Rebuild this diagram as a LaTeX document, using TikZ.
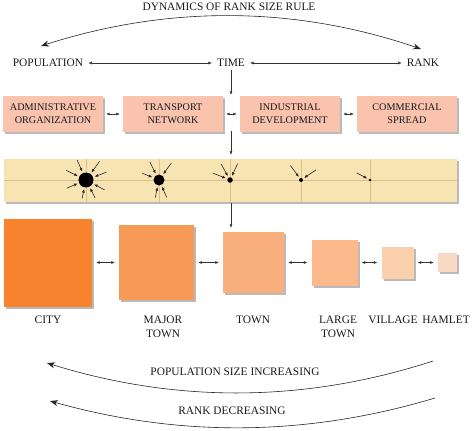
\documentclass[tikz,border=0pt]{standalone}
\usepackage{fontspec}
\setmainfont{Liberation Serif}
\usetikzlibrary{arrows.meta,shadows,calc}

\definecolor{stagepink}{HTML}{F9C3AE}
\definecolor{bandtan}{HTML}{F8E3B3}
\definecolor{bandline}{HTML}{D9C08C}
\definecolor{citycol}{HTML}{F7832F}
\definecolor{majorcol}{HTML}{F79A57}
\definecolor{towncol}{HTML}{FAAF7F}
\definecolor{largecol}{HTML}{FBB98C}
\definecolor{villagecol}{HTML}{FBD0AC}
\definecolor{hamletcol}{HTML}{F8DAC4}

\begin{document}
\begin{tikzpicture}[x=1pt, y=-1pt, >=Latex,
  every node/.style={font=\fontsize{11.4}{14}\selectfont, text=black!90, inner sep=1pt},
  boxshadow/.style={drop shadow={shadow xshift=2pt, shadow yshift=-2pt, fill=black!60, opacity=0.45}},
  stage/.style={fill=stagepink, minimum width=100pt, minimum height=36pt, align=center,
    font=\fontsize{10.2}{13}\selectfont, boxshadow},
  settle/.style 2 args={fill=#1, minimum size=#2, boxshadow},
  hub/.style={circle, fill=black, inner sep=0pt},
  link/.style={{Latex[length=3.5pt,width=3pt]}-{Latex[length=3.5pt,width=3pt]}, black!80, line width=0.45pt, shorten <=4pt, shorten >=4pt},
  down/.style={-{Latex[length=3.5pt,width=3pt]}, black!80, line width=0.45pt},
  pull/.style={-{Latex[length=3.6pt,width=3pt]}, black!85, line width=0.6pt, shorten >=1.5pt},
  sweep/.style={black!85, line width=0.6pt},
  gridline/.style={bandline, line width=0.4pt}]
  \useasboundingbox (0,0) rectangle (474,431);

  % Title arc
  \node (title) at (229,7) {DYNAMICS OF RANK SIZE RULE};
  \coordinate (popend) at (41,46);
  \coordinate (rankend) at (421,49);
  \draw[sweep, {Stealth[length=8pt,width=6pt]}-{Stealth[length=8pt,width=6pt]}] (popend) .. controls (169,5) and (295,6) .. (rankend);

  % Population - time - rank
  \node (pop) at (48,63) {POPULATION};
  \node (time) at (231,63) {TIME};
  \node (rank) at (423,63) {RANK};
  \draw[link] (pop) -- (time);
  \draw[link] (time) -- (rank);

  % Stages of growth
  \node[stage] (admin) at (53,114) {ADMINISTRATIVE\\ORGANIZATION};
  \node[stage] (transport) at (173,114) {TRANSPORT\\NETWORK};
  \node[stage] (industry) at (290,114) {INDUSTRIAL\\DEVELOPMENT};
  \node[stage] (commerce) at (407,114) {COMMERCIAL\\SPREAD};
  \draw[link, shorten <=3pt, shorten >=3pt] (admin) -- (transport);
  \draw[link, shorten <=3pt, shorten >=3pt] (transport) -- (industry);
  \draw[link, shorten <=3pt, shorten >=3pt] (industry) -- (commerce);

  % Band of centres
  \node[fill=bandtan, minimum width=453pt, minimum height=43pt, boxshadow] (band) at (230.5,180.5) {};
  \draw[gridline] (band.west) -- (band.east);
  \foreach \x in {86,159,230,301,370}
    \draw[gridline] (\x,159) -- (\x,202);
  \foreach \n/\x/\d in {1/86/15, 2/159/11, 3/230/5.5, 4/301/4, 5/370/2.8}
    \node[hub, minimum size=\d pt] (c\n) at (\x,180) {};
  \foreach \a/\r in {-114/22, -54/23, -154/22, -21/22, 157/21, 28/21, 102/19, 63/20}
    \draw[pull] ($(c1)+(\a:\r)$) -- (c1);
  \foreach \a/\r in {-117/20, -54/21, -158/18, 102/18, 66/19}
    \draw[pull] ($(c2)+(\a:\r)$) -- (c2);
  \foreach \a/\r in {-119/18, -65/18, -158/18}
    \draw[pull] ($(c3)+(\a:\r)$) -- (c3);
  \foreach \a/\r in {-126/18, -34/18}
    \draw[pull] ($(c4)+(\a:\r)$) -- (c4);
  \draw[pull] ($(c5)+(-152:15)$) -- (c5);

  % Settlements
  \node[settle={citycol}{88pt}] (city) at (48,262.5) {};
  \node[settle={majorcol}{75pt}] (major) at (156.5,262.5) {};
  \node[settle={towncol}{61pt}] (town) at (253.5,262.5) {};
  \node[settle={largecol}{46pt}] (large) at (334.5,262.5) {};
  \node[settle={villagecol}{32pt}] (village) at (397.5,262.5) {};
  \node[settle={hamletcol}{19pt}] (hamlet) at (447.5,262.5) {};
  \draw[link] (city) -- (major);
  \draw[link] (major) -- (town);
  \draw[link] (town) -- (large);
  \draw[link] (large) -- (village);
  \draw[link] (village) -- (hamlet);
  \node[anchor=north] (citylbl) at (48,315) {CITY};
  \node[anchor=north, align=center] (majorlbl) at (163,315) {MAJOR\\TOWN};
  \node[anchor=north] (townlbl) at (253,315) {TOWN};
  \node[anchor=north, align=center] (largelbl) at (338,315) {LARGE\\TOWN};
  \node[anchor=north] (villagelbl) at (393,315) {VILLAGE};
  \node[anchor=north] (hamletlbl) at (446,315) {HAMLET};

  % Time runs down
  \draw[down, shorten <=2pt, shorten >=1pt] (time) -- (time |- admin.north);
  \draw[down, shorten <=-1pt, shorten >=4pt] (time |- admin.south) -- (time |- band.north);
  \draw[down, shorten <=1pt, shorten >=4pt] (time |- band.south) -- (time |- town.north);

  % Bottom arcs
  \coordinate (popright) at (433,361);
  \coordinate (popleft) at (47,363);
  \coordinate (rankright) at (435,398);
  \coordinate (rankleft) at (50,401);
  \draw[sweep, -{Stealth[length=8pt,width=6pt]}] (popright) .. controls (304,403) and (176,403) .. (popleft);
  \draw[sweep, -{Stealth[length=8pt,width=6pt]}] (rankright) .. controls (305,437) and (178,437) .. (rankleft);
  \node (popinc) at (235,372) {POPULATION SIZE INCREASING};
  \node (rankdec) at (232,411) {RANK DECREASING};
\end{tikzpicture}
\end{document}
